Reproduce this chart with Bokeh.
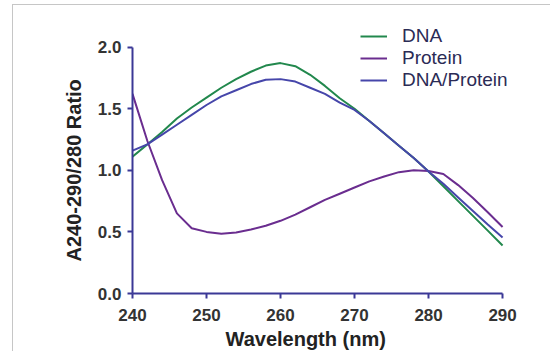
from bokeh.plotting import figure
from bokeh.models import FixedTicker, PrintfTickFormatter, Legend, LegendItem, Title
from bokeh.embed import file_html
from bokeh.resources import INLINE

wavelength = [240, 242, 244, 246, 248, 250, 252, 254, 256, 258, 260, 262, 264,
              266, 268, 270, 272, 274, 276, 278, 280, 282, 284, 286, 288, 290]
dna = [1.11, 1.21, 1.31, 1.42, 1.51, 1.59, 1.67, 1.74, 1.80, 1.85, 1.87, 1.845, 1.775,
       1.685, 1.585, 1.50, 1.40, 1.30, 1.20, 1.10, 0.99, 0.87, 0.75, 0.63, 0.51, 0.39]
protein = [1.62, 1.24, 0.92, 0.65, 0.53, 0.50, 0.485, 0.495, 0.52, 0.55, 0.59, 0.64, 0.70,
           0.76, 0.81, 0.86, 0.91, 0.95, 0.985, 1.00, 0.995, 0.97, 0.88, 0.775, 0.66, 0.54]
dna_protein = [1.16, 1.21, 1.29, 1.37, 1.45, 1.53, 1.60, 1.65, 1.70, 1.735, 1.74, 1.72, 1.67,
               1.62, 1.55, 1.49, 1.40, 1.30, 1.20, 1.10, 0.99, 0.89, 0.78, 0.67, 0.56, 0.455]
x_ticks = [240, 250, 260, 270, 280, 290]
y_ticks = [0.0, 0.5, 1.0, 1.5, 2.0]
series_names = ["DNA", "Protein", "DNA/Protein"]

FONT = "Liberation Sans"
AXIS_COLOR = "#3b3896"
EDGE = "#c6c6c6"

p = figure(width=550, height=351, output_backend="svg", toolbar_location=None,
           x_range=(240, 295.8), y_range=(0, 2.297),
           min_border_left=132, min_border_right=5, min_border_top=10, min_border_bottom=57)
p.outline_line_color = None
p.xgrid.visible = False
p.ygrid.visible = False
p.background_fill_color = "white"
p.border_fill_alpha = 0
p.styles = {
    "background": (f"linear-gradient({EDGE},{EDGE}) 12px 4px / 1px 100% no-repeat, "
                   f"linear-gradient({EDGE},{EDGE}) 12px 4px / 100% 1px no-repeat, white"),
}

colors = ["#22884d", "#6a2d8f", "#4646aa"]
renderers = []
for ys, c in zip([dna, protein, dna_protein], colors):
    renderers.append(p.line(wavelength, ys, line_color=c, line_width=2))

for ax in (p.xaxis[0], p.yaxis[0]):
    ax.axis_line_color = AXIS_COLOR
    ax.axis_line_width = 2
    ax.major_tick_line_color = AXIS_COLOR
    ax.major_tick_line_width = 2
    ax.major_tick_out = 5
    ax.major_tick_in = 0
    ax.minor_tick_line_color = None
    ax.major_label_text_font = FONT
    ax.major_label_text_font_style = "bold"
    ax.major_label_text_font_size = "17px"
    ax.major_label_text_color = "#333333"

p.xaxis.ticker = FixedTicker(ticks=x_ticks)
p.yaxis.ticker = FixedTicker(ticks=y_ticks)
p.xaxis.bounds = (240, 290)
p.yaxis.bounds = (0, 2.0)
p.yaxis.formatter = PrintfTickFormatter(format="%.1f")
p.xaxis.major_label_standoff = 10
p.yaxis.major_label_standoff = 6

yt = Title(text="A240-290/280 Ratio", align="left", offset=28, padding=4,
           text_font=FONT, text_font_style="bold", text_font_size="20px",
           text_color="#222222", standoff=11)
p.add_layout(yt, "left")

xt = Title(text="Wavelength (nm)", align="left", offset=93,
           text_font=FONT, text_font_style="bold", text_font_size="20px",
           text_color="#222222", standoff=4)
p.add_layout(xt, "below")

legend = Legend(items=[LegendItem(label=n, renderers=[r]) for n, r in zip(series_names, renderers)],
                location=(228, 202), padding=0, margin=0, spacing=0,
                glyph_width=27, glyph_height=22, label_height=22, label_standoff=15,
                label_text_font=FONT, label_text_font_size="19px", label_text_color="#2b2b55",
                border_line_color=None, background_fill_alpha=0)
p.add_layout(legend)

open("out.html", "w").write(file_html(p, INLINE))
